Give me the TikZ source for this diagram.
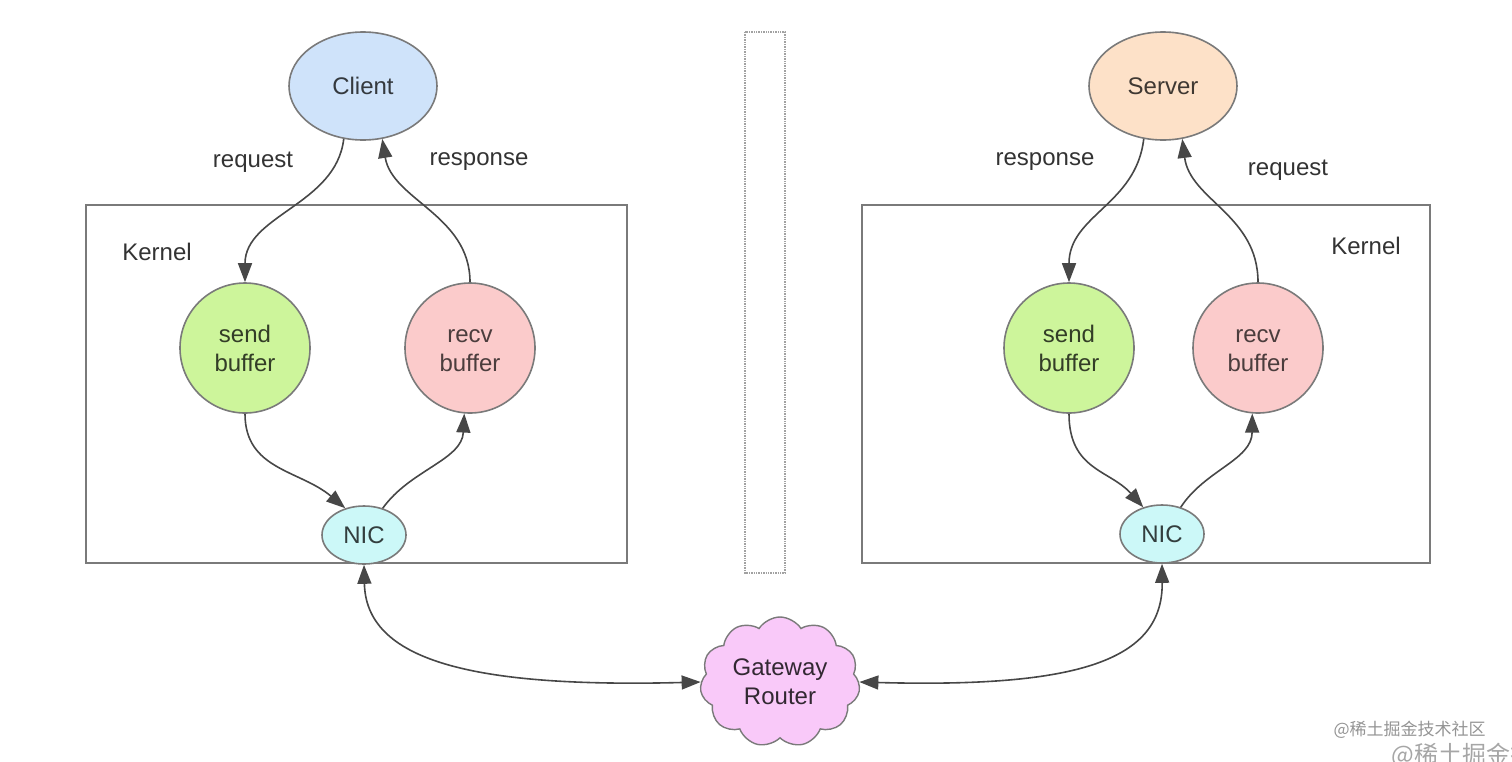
\documentclass[tikz,border=0pt]{standalone}
\usepackage{fontspec}
\setmainfont{Liberation Sans}
\newfontfamily\cjk{Noto Sans CJK SC}
\usetikzlibrary{shapes.geometric,shapes.symbols,arrows.meta}
\definecolor{clientfill}{HTML}{CFE3FA}
\definecolor{serverfill}{HTML}{FDE1C8}
\definecolor{sendfill}{HTML}{CDF59B}
\definecolor{recvfill}{HTML}{FBCBCB}
\definecolor{nicfill}{HTML}{CCF8F8}
\definecolor{cloudfill}{HTML}{F9C9F9}
\definecolor{edge}{HTML}{7A7A7A}
\definecolor{ink}{HTML}{333333}
\tikzset{
  txt/.style={font=\fontsize{24}{29}\selectfont,text=ink,align=center},
  host/.style={txt,ellipse,draw=edge,line width=1.6pt,minimum width=148pt,minimum height=108pt},
  buf/.style={txt,circle,draw=edge,line width=1.6pt,minimum size=130pt,inner sep=0pt},
  nic/.style={txt,ellipse,draw=edge,line width=1.6pt,minimum width=84pt,minimum height=58pt,inner sep=0pt},
  kernelbox/.style={draw=edge,line width=1.8pt},
  flow/.style={draw=ink!90,line width=1.6pt,-{Triangle[length=19pt,width=14pt]}},
  link/.style={draw=ink!90,line width=1.6pt,{Triangle[length=19pt,width=14pt]}-{Triangle[length=19pt,width=14pt]}}
}
\begin{document}
\begin{tikzpicture}[x=1pt,y=-1pt]
\useasboundingbox (0,0) rectangle (1512,761);
% left: client
\draw[kernelbox] (86,205) rectangle (627,563);
\node[txt] (lkernel) at (157,252) {Kernel};
\node[host,fill=clientfill,text=clientfill!25!black] (client) at (363,86) {Client};
\node[buf,fill=sendfill,text=sendfill!25!black] (lsend) at (245,348) {send\\buffer};
\node[buf,fill=recvfill,text=recvfill!30!black] (lrecv) at (470,348) {\vphantom{d}recv\\buffer};
\node[nic,fill=nicfill,text=nicfill!25!black] (lnic) at (364,535) {NIC};
\node[txt] (lreq) at (253,162) {request};
\node[txt] (lres) at (479,162) {response};
\draw[flow] (client.-110) .. controls (336,205) and (245,215) .. (lsend.north);
\draw[flow] (lrecv.north) .. controls (470,215) and (392,200) .. (client.-70);
\draw[flow] (lsend.south) .. controls (245,470) and (300,470) .. (lnic.125);
\draw[flow] (lnic.55) .. controls (410,470) and (462,460) .. (lrecv.-95);
% middle
\draw[densely dotted,draw=edge!70,line width=1.4pt] (745,32) rectangle (785,573);
\node[txt,cloud,cloud puffs=11,cloud puff arc=115,aspect=1.2,draw=edge,line width=1.4pt,
      fill=cloudfill,text=cloudfill!20!black,minimum width=160pt,minimum height=130pt,inner sep=0pt]
      (router) at (780,682) {Gateway\\Router};
% right: server
\draw[kernelbox] (862,205) rectangle (1430,563);
\node[txt] (rkernel) at (1366,246) {Kernel};
\node[host,fill=serverfill,text=serverfill!25!black] (server) at (1163,86) {Server};
\node[buf,fill=sendfill,text=sendfill!25!black] (rsend) at (1069,348) {send\\buffer};
\node[buf,fill=recvfill,text=recvfill!30!black] (rrecv) at (1258,348) {\vphantom{d}recv\\buffer};
\node[nic,fill=nicfill,text=nicfill!25!black] (rnic) at (1162,534) {NIC};
\node[txt] (rres) at (1045,162) {response};
\node[txt] (rreq) at (1288,170) {request};
\draw[flow] (server.-110) .. controls (1136,205) and (1069,215) .. (rsend.north);
\draw[flow] (rrecv.north) .. controls (1258,215) and (1190,200) .. (server.-70);
\draw[flow] (rsend.south) .. controls (1069,470) and (1110,470) .. (rnic.125);
\draw[flow] (rnic.55) .. controls (1205,470) and (1252,460) .. (rrecv.-95);
% network
\draw[link] (lnic.south) .. controls (366,660) and (470,688) .. (router.west);
\draw[link] (router.east) .. controls (1080,688) and (1163,660) .. (rnic.south);
% watermark
\node[font=\cjk\fontsize{17}{20}\selectfont,text=black!42,anchor=west] (mark) at (1330,730) {@稀土掘金技术社区};
\node[font=\cjk\fontsize{24}{28}\selectfont,text=black!35,anchor=west] (mark2) at (1388,755) {@稀土掘金技术社区};
\end{tikzpicture}
\end{document}
